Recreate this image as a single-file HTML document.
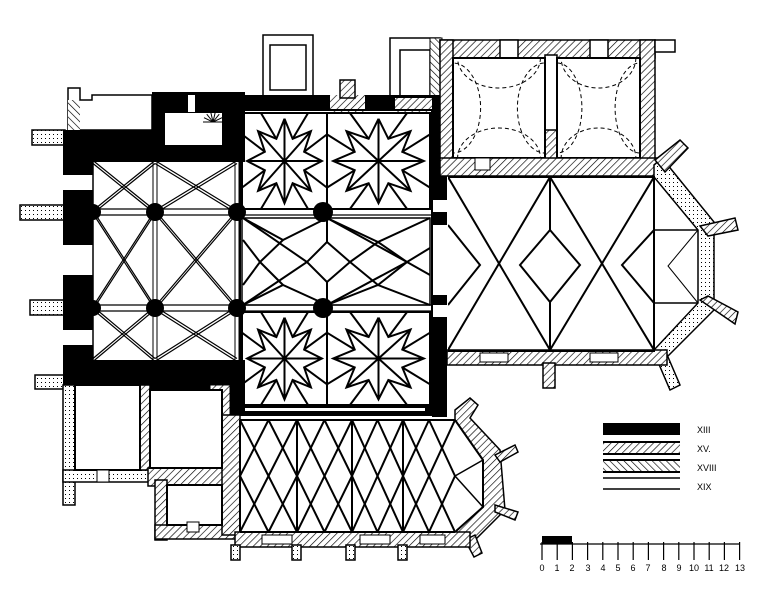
<!DOCTYPE html>
<html><head><meta charset="utf-8">
<style>
html,body{margin:0;padding:0;background:#fff;width:770px;height:608px;overflow:hidden}
svg{display:block}
text{font-family:"Liberation Sans",sans-serif}
</style></head>
<body>
<svg id="s" width="770" height="608" viewBox="0 0 770 608" xmlns="http://www.w3.org/2000/svg">
<defs>
<pattern id="h" width="5" height="5" patternUnits="userSpaceOnUse" patternTransform="rotate(45)">
<rect width="5" height="5" fill="#fff"/><line x1="0" y1="0" x2="0" y2="5" stroke="#000" stroke-width="1.3"/></pattern>
<pattern id="h2" width="5" height="5" patternUnits="userSpaceOnUse" patternTransform="rotate(-45)">
<rect width="5" height="5" fill="#fff"/><line x1="0" y1="0" x2="0" y2="5" stroke="#000" stroke-width="1.3"/></pattern>
<pattern id="d" width="4" height="4" patternUnits="userSpaceOnUse">
<rect width="4" height="4" fill="#fff"/><rect x="1" y="2" width="1" height="1" fill="#000"/></pattern>
<clipPath id="cc"><rect x="448" y="177" width="206" height="174"/></clipPath>
<clipPath id="cs"><rect x="240" y="420" width="215" height="112"/></clipPath>
<clipPath id="b1"><rect x="453" y="58" width="92" height="100"/></clipPath>
<clipPath id="b2"><rect x="557" y="58" width="83" height="100"/></clipPath>
</defs>
<g id="g" stroke="#000" fill="none"></g>
<g font-size="9">
<text x="697" y="433">XIII</text>
<text x="697" y="452">XV.</text>
<text x="697" y="471">XVIII</text>
<text x="697" y="490">XIX</text>
</g>
<g font-size="9" text-anchor="middle">
<text x="542" y="571">0</text><text x="557" y="571">1</text><text x="572" y="571">2</text><text x="588" y="571">3</text><text x="603" y="571">4</text><text x="618" y="571">5</text><text x="633" y="571">6</text><text x="648" y="571">7</text><text x="664" y="571">8</text><text x="679" y="571">9</text><text x="694" y="571">10</text><text x="709" y="571">11</text><text x="724" y="571">12</text><text x="740" y="571">13</text>
</g>
</svg>
<script>
const g=document.getElementById('g');
function el(t,a){const e=document.createElementNS('http://www.w3.org/2000/svg',t);for(const k in a)e.setAttribute(k,a[k]);g.appendChild(e);return e;}
function R(x,y,w,h,f,sw){el('rect',{x,y,width:w,height:h,fill:f||'#000','stroke-width':sw===undefined?0:sw});}
function L(pts,sw,extra){el('polyline',Object.assign({points:pts.map(p=>p.join(',')).join(' '),'stroke-width':sw||2,fill:'none'},extra||{}));}
function P(pts,f,sw){el('polygon',{points:pts.map(p=>p.join(',')).join(' '),fill:f,'stroke-width':sw===undefined?1.5:sw});}

// ===== West part buttresses
[[32,130,33,15],[20,205,45,15],[30,300,35,15],[35,375,30,14]].forEach(b=>R(b[0],b[1],b[2],b[3],'url(#d)',1.5));
P([[68,88],[80,88],[80,100],[92,100],[92,95],[152,95],[152,130],[68,130]],'#fff',1.5);
R(68,100,12,30,'url(#h2)',0);
R(63,130,182,32);
R(152,92,93,40);
R(165,113,57,32,'#fff');R(188,95,7,17,'#fff');
R(63,160,30,15);R(63,190,30,55);R(63,275,30,55);R(63,345,30,45);
R(63,360,182,30);
R(228,380,17,35);
for(let i=0;i<8;i++){const a=Math.PI*(1.0+i/7);el('line',{x1:213,y1:122,x2:213+10*Math.cos(a),y2:122+10*Math.sin(a),'stroke-width':1});}
const xs=[93,155,237],ys=[162,212,308,360];
for(let i=0;i<2;i++)for(let j=0;j<3;j++){const x0=xs[i],x1=xs[i+1],y0=ys[j],y1=ys[j+1];
 [[-1.5],[1.5]].forEach(o=>{L([[x0,y0+o[0]],[x1,y1+o[0]]],1.2);L([[x0,y1+o[0]],[x1,y0+o[0]]],1.2);});}
[155,237].forEach(x=>{L([[x-2,162],[x-2,360]],1);L([[x+2,162],[x+2,360]],1);});
[212,308].forEach(y=>{L([[93,y-3],[432,y-3]],1.2);L([[93,y+3],[432,y+3]],1.2);});
L([[93,162],[93,360]],1.5);
[[155,212],[237,212],[155,308],[237,308],[323,212],[323,308]].forEach(p=>el('circle',{cx:p[0],cy:p[1],r:p[0]==323?10:9,fill:'#000','stroke-width':0}));
[[93,212],[93,308]].forEach(p=>el('circle',{cx:p[0],cy:p[1],r:8,fill:'#000','stroke-width':0}));

// ===== Central
R(263,35,50,62,'#fff',1.5);R(270,45,36,45,'#fff',1.5);
R(390,38,50,62,'#fff',1.5);R(400,50,30,48,'#fff',1.5);R(430,38,12,62,'url(#h2)',1);
R(240,95,192,15);R(330,95,35,18,'url(#h)',0);R(395,98,37,14,'url(#h)',0);R(340,80,15,18,'url(#h)',1.5);
R(432,95,15,322);R(432,200,15,12,'#fff');R(432,305,15,12,'#fff');R(432,225,15,70,'#fff');
L([[240,110],[432,110],[432,415],[240,415],[240,110]],2);
R(230,405,210,10,'#000');R(245,408,180,3,'#fff');
R(210,385,20,30,'url(#h)',1);
function star(x0,y0,x1,y1){const cx=(x0+x1)/2,cy=(y0+y1)/2,sx=(x1-x0)/2,sy=(y1-y0)/2;
 const pt=(a,r)=>[cx+Math.cos(a)*r*sx,cy+Math.sin(a)*r*sy];
 const ring=[];for(let k=0;k<16;k++){const a=k*Math.PI/8-Math.PI/2;ring.push(pt(a,k%2?0.5:0.88));}
 ring.push(ring[0]);L(ring,2);
 for(let k=0;k<8;k++){const a=k*Math.PI/4-Math.PI/2;L([[cx,cy],pt(a,0.88)],2);}
 for(let k=0;k<8;k++){const a=k*Math.PI/4-Math.PI/2+Math.PI/8;const p=pt(a,0.5);
  const q=pt(a,1.45);q[0]=Math.max(x0,Math.min(x1,q[0]));q[1]=Math.max(y0,Math.min(y1,q[1]));L([p,q],2);}
 L([[x0,y0],[x1,y0],[x1,y1],[x0,y1],[x0,y0]],2);}
star(242,113,327,209);star(327,113,430,209);star(242,312,327,405);star(327,312,430,405);
[[[243,218],[283,240],[327,218]],[[243,218],[307,262],[327,282],[327,305]],[[243,305],[283,285],[327,305]],[[243,305],[307,262],[327,242],[327,218]],
 [[243,240],[260,262],[243,285]],[[260,262],[283,240]],[[260,262],[283,285]],
 [[327,218],[378,242],[430,218]],[[327,305],[378,285],[430,305]],[[327,242],[350,262],[327,282]],[[350,262],[378,242],[407,262],[378,285],[350,262]],
 [[327,218],[407,262],[430,275]],[[327,305],[407,262],[430,248]]].forEach(s=>L(s,2));
L([[242,218],[430,218],[430,305],[242,305],[242,218]],1.5);

// ===== Top chapel
R(440,40,215,18,'url(#h)',1.5);R(440,40,13,125,'url(#h)',1.5);R(640,40,15,125,'url(#h)',1.5);
R(545,55,12,105,'#fff',1.5);R(545,130,12,30,'url(#h)',1.5);
R(655,40,20,12,'#fff',1.5);R(500,40,18,18,'#fff',1.5);R(590,40,18,18,'#fff',1.5);
R(453,58,92,100,'#fff',2);R(557,58,83,100,'#fff',2);
[[453,58,92,100,'b1'],[557,58,83,100,'b2']].forEach(b=>{const [x,y,w,h,c]=b;
 const d={'stroke-width':1,'stroke-dasharray':'4,3','clip-path':'url(#'+c+')',fill:'none'};
 el('ellipse',Object.assign({cx:x+w/2,cy:y,rx:w*0.45,ry:h*0.3},d));
 el('ellipse',Object.assign({cx:x+w/2,cy:y+h,rx:w*0.45,ry:h*0.3},d));
 el('ellipse',Object.assign({cx:x,cy:y+h/2,rx:w*0.3,ry:h*0.45},d));
 el('ellipse',Object.assign({cx:x+w,cy:y+h/2,rx:w*0.3,ry:h*0.45},d));
 R(x,y,w,h,'none',2);});
R(440,158,230,18,'url(#h)',1.5);R(475,158,15,12,'#fff',1);

// ===== Chancel
P([[654,165],[662,158],[714,222],[714,310],[662,362],[654,355],[654,350],[698,303],[698,230],[654,177]],'url(#d)',1.5);
P([[655,160],[680,140],[688,148],[665,172]],'url(#h)',1.5);
P([[700,226],[735,218],[738,230],[708,236]],'url(#h)',1.5);
P([[700,300],[708,296],[738,312],[735,324]],'url(#h)',1.5);
P([[655,355],[665,350],[680,385],[670,390]],'url(#d)',1.5);
R(447,350,220,15,'url(#h)',1.5);R(480,353,28,9,'#fff',1);R(590,353,28,9,'#fff',1);
R(543,363,12,25,'url(#h)',1.5);
L([[448,177],[654,177],[654,351],[448,351]],2);
[[[448,177],[550,350]],[[448,350],[550,177]],[[550,177],[654,350]],[[550,350],[654,177]],
 [[448,225],[480,265],[448,305]],[[550,230],[520,265],[550,302],[580,265],[550,230]],[[654,230],[622,265],[654,303]],
 [[550,177],[550,230]],[[550,302],[550,350]]].forEach(s=>L(s,2,{'clip-path':'url(#cc)'}));
L([[654,230],[698,230]],1.5);L([[654,303],[698,303]],1.5);L([[698,230],[668,266],[698,303]],1);
L([[654,177],[654,351]],2);

// ===== South chapel and rooms
R(63,385,12,120,'url(#d)',1.5);R(63,470,100,12,'url(#d)',1.5);
R(140,385,10,85,'url(#h)',1.5);R(148,468,82,18,'url(#h)',1.5);
R(155,480,12,60,'url(#h)',1.5);R(155,525,85,14,'url(#h)',1.5);R(222,415,18,120,'url(#h)',1.5);
R(167,485,55,40,'#fff',2);R(75,385,65,85,'#fff',2);R(150,390,72,78,'#fff',2);
R(97,470,12,12,'#fff',1);R(187,522,12,10,'#fff',1);
P([[455,410],[470,398],[478,405],[470,418],[500,450],[505,510],[470,545],[455,545],[455,532],[483,507],[483,460],[455,420]],'url(#h)',1.5);
P([[495,455],[515,445],[518,452],[500,462]],'url(#h)',1.5);P([[495,505],[518,512],[515,520],[495,512]],'url(#h)',1.5);P([[465,540],[475,535],[482,553],[474,557]],'url(#h)',1.5);
R(235,532,235,15,'url(#h)',1.5);R(262,535,30,9,'#fff',1);R(360,535,30,9,'#fff',1);R(420,535,25,9,'#fff',1);
[[235,545],[296,545],[350,545],[402,545]].forEach(p=>R(p[0]-4,p[1],9,15,'url(#d)',1.5));
R(240,420,215,112,'#fff',0);L([[240,420],[455,420]],2);L([[240,532],[455,532]],2);L([[240,420],[240,532]],2);
const bx=[240,297,352,403,455];
for(let i=0;i<4;i++){const x0=bx[i],x1=bx[i+1],xm=(x0+x1)/2;
 L([[x0,420],[x1,532]],2,{'clip-path':'url(#cs)'});L([[x0,532],[x1,420]],2,{'clip-path':'url(#cs)'});
 L([[xm,420],[x0,476],[xm,532]],2);L([[xm,420],[x1,476],[xm,532]],2);
 if(i>0)L([[x0,420],[x0,532]],2);}
L([[455,420],[483,460],[483,507],[455,532]],2);L([[455,476],[483,460]],1.5);L([[455,476],[483,507]],1.5);

// ===== Legend
R(603,423,77,12);
R(603,443,77,10,'url(#h)',0);L([[603,442],[680,442]],2);L([[603,454],[680,454]],2);
R(603,461,77,10,'url(#h2)',0);L([[603,460],[680,460]],2);L([[603,472],[680,472]],2);
L([[603,478],[680,478]],1.5);L([[603,489],[680,489]],1.5);
L([[540,544],[740,544]],1.2);
for(let i=0;i<=13;i++){const x=542+i*15.2;L([[x,542],[x,560]],1.2);}
R(542,536,30,8,'#000');
</script>
</body></html>
